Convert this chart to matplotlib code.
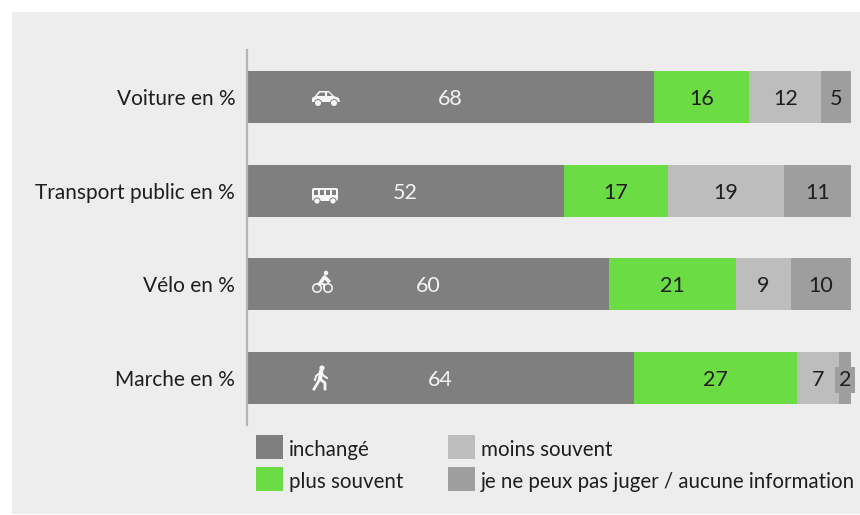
import matplotlib
matplotlib.use('Agg')
import matplotlib.pyplot as plt
from matplotlib.patches import Circle, Polygon, Rectangle, FancyBboxPatch

# Values as printed on the bars
categories = ['Voiture en %', 'Transport public en %', 'Vélo en %', 'Marche en %']
inchange = [68, 52, 60, 64]
plus_souvent = [16, 17, 21, 27]
moins_souvent = [12, 19, 9, 7]
ne_peux_pas = [5, 11, 10, 2]

series = [inchange, plus_souvent, moins_souvent, ne_peux_pas]
colors = ['#7f7f7f', '#6bdc44', '#bdbdbd', '#9e9e9e']
text_colors = ['#f4f4f4', '#1e1e1e', '#1e1e1e', '#1e1e1e']
legend_labels = ['inchangé', 'plus souvent', 'moins souvent',
                 'je ne peux pas juger / aucune information']

W, H = 860, 515
BG = '#ededed'
plt.rcParams['font.family'] = ['Lato', 'DejaVu Sans']

fig = plt.figure(figsize=(W / 100, H / 100), dpi=100, facecolor='white')

# Grey panel with the white margin of the original
panel = fig.add_axes([0, 0, 1, 1])
panel.set_xlim(0, W)
panel.set_ylim(H, 0)
panel.axis('off')
panel.add_patch(Rectangle((12, 12), W - 12, H - 12 - 1, color=BG, lw=0))

# Plot area: 247-851 px across, 50-425 px down
ax = fig.add_axes([247 / W, 1 - 425 / H, 604 / W, 375 / H])
ax.patch.set_visible(False)

ypos = [0, 1, 2, 3]
totals = [sum(row) for row in zip(*series)]
left = [0, 0, 0, 0]
for vals, col, tcol in zip(series, colors, text_colors):
    shares = [100 * v / t for v, t in zip(vals, totals)]
    ax.barh(ypos, shares, left=left, height=0.555, color=col, lw=0)
    for y, v, s, l in zip(ypos, vals, shares, left):
        if s < 3:
            # the small value sits on its own box, a bit wider than the segment
            ax.text(l + s / 2, y, str(v), ha='center', va='center_baseline', fontsize=15.5,
                    color=tcol, clip_on=False,
                    bbox=dict(boxstyle='square,pad=0.16', fc=col, ec='none'))
        else:
            ax.text(l + s / 2, y, str(v), ha='center', va='center_baseline', fontsize=15.5,
                    color=tcol)
    left = [l + s for l, s in zip(left, shares)]

ax.set_xlim(0, 100)
ax.set_ylim(3.502, -0.502)
ax.set_yticks(ypos)
ax.set_yticklabels(categories, fontsize=15, color='#1e1e1e')
ax.set_xticks([])
ax.tick_params(axis='y', length=0, pad=8.5)
for side in ['top', 'right', 'bottom']:
    ax.spines[side].set_visible(False)
ax.spines['left'].set_color('#b4b4b4')
ax.spines['left'].set_linewidth(1.6)

# Small white pictograms, drawn in pixel coordinates on top of the bars
icons = fig.add_axes([0, 0, 1, 1])
icons.set_xlim(0, W)
icons.set_ylim(H, 0)
icons.axis('off')
icons.patch.set_visible(False)
WHITE = '#f6f6f6'
DARK = colors[0]


def wheel(x, y, r=3.0):
    icons.add_patch(Circle((x, y), r + 1, color=DARK, lw=0))
    icons.add_patch(Circle((x, y), r, color=WHITE, lw=0))


def car(x, y):
    icons.add_patch(Polygon([(x - 14, y + 4), (x - 14, y), (x - 11, y - 2), (x - 7, y - 7),
                             (x + 3, y - 7), (x + 8, y - 2), (x + 13, y), (x + 14, y + 4)],
                            color=WHITE, lw=0))
    icons.add_patch(Polygon([(x - 9, y - 2), (x - 6, y - 5.5), (x - 1, y - 5.5), (x - 1, y - 2)],
                            color=DARK, lw=0))
    icons.add_patch(Polygon([(x + 1, y - 2), (x + 1, y - 5.5), (x + 3, y - 5.5), (x + 6, y - 2)],
                            color=DARK, lw=0))
    wheel(x - 8, y + 5)
    wheel(x + 8, y + 5)


def bus(x, y):
    icons.add_patch(FancyBboxPatch((x - 13, y - 7), 26, 13, boxstyle='round,pad=0,rounding_size=2',
                                   color=WHITE, lw=0))
    for dx in [-11.5, -5.5, 0.5, 6.5]:
        icons.add_patch(Rectangle((x + dx, y - 5), 4.5, 5, color=DARK, lw=0))
    wheel(x - 8, y + 6, 2.6)
    wheel(x + 8, y + 6, 2.6)


def bike(x, y):
    for dx in [-5.5, 5.5]:
        icons.add_patch(Circle((x + dx, y + 5), 4.2, fc='none', ec=WHITE, lw=1.1))
    icons.plot([x - 3, x + 2, x + 6], [y + 1, y - 6, y - 2], color=WHITE, lw=2.6)
    icons.plot([x - 3, x + 1, x + 1], [y + 1, y + 1, y + 5], color=WHITE, lw=1.4)
    icons.add_patch(Circle((x + 3.5, y - 10), 2.3, color=WHITE, lw=0))


def walker(x, y):
    icons.add_patch(Circle((x + 2, y - 10), 2.6, color=WHITE, lw=0))
    icons.plot([x + 1, x], [y - 6, y + 1], color=WHITE, lw=3)
    icons.plot([x, x - 6], [y + 1, y + 11], color=WHITE, lw=2)
    icons.plot([x, x + 5, x + 5], [y + 1, y + 5, y + 11], color=WHITE, lw=2)
    icons.plot([x + 1, x - 4, x - 5], [y - 6, y - 2, y + 2], color=WHITE, lw=1.4)
    icons.plot([x + 1, x + 4, x + 7], [y - 6, y - 2, y], color=WHITE, lw=1.4)


car(326, 98)
bus(325, 195)
bike(322.5, 283)
walker(320, 378)

# Hand placed legend, two columns
legend_pos = [(256, 435), (256, 467), (448, 435), (448, 467)]
for (lx, ly), col, lab in zip(legend_pos, colors, legend_labels):
    icons.add_patch(Rectangle((lx - 0.5, ly), 27, 24, color=col, lw=0))
    icons.text(lx + 33, ly + 14.5, lab, ha='left', va='center', fontsize=14.8, color='#1e1e1e')

fig.savefig('out.png', dpi=100, facecolor='white')
plt.close()
